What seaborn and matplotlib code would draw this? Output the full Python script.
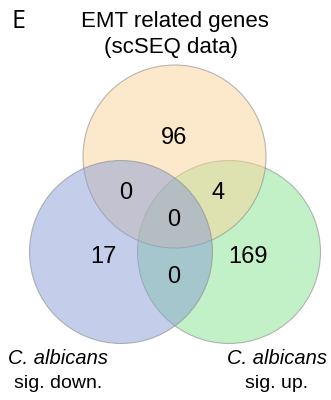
import matplotlib
matplotlib.use("Agg")
import matplotlib.pyplot as plt
from matplotlib.patches import Circle
from matplotlib.colors import to_rgba
import seaborn as sns

# Gene sets and overlap counts
set_names = ["EMT related genes\n(scSEQ data)", "C. albicans\nsig. down.", "C. albicans\nsig. up."]
only_emt = 96
only_down = 17
only_up = 169
emt_down = 0
emt_up = 4
down_up = 0
all_three = 0

sns.set_theme(style="white")
plt.rcParams["font.family"] = ["Liberation Sans", "DejaVu Sans"]
plt.rcParams["text.color"] = "black"

fig = plt.figure(figsize=(3.31, 4.0), dpi=100)
ax = fig.add_axes([0, 0, 1, 1])
ax.set_xlim(0, 331)
ax.set_ylim(400, 0)
ax.set_aspect("equal")
ax.axis("off")

r = 91.5
circles = {
    "up": ((229, 252), "#87E593"),
    "emt": ((174.5, 156.5), "#FBD399"),
    "down": ((121, 252), "#8B9DD5"),
}
for key in ["up", "emt", "down"]:
    (cx, cy), col = circles[key]
    ax.add_patch(Circle((cx, cy), r, facecolor=to_rgba(col, 0.5),
                        edgecolor=to_rgba("#8a8a8a", 0.6), linewidth=0.8))

num_kw = dict(ha="center", va="center", fontsize=17, color="black")
ax.text(174, 138, str(only_emt), **num_kw)
ax.text(126, 193, str(emt_down), **num_kw)
ax.text(218, 193, str(emt_up), **num_kw)
ax.text(174, 220, str(all_three), **num_kw)
ax.text(103, 257, str(only_down), **num_kw)
ax.text(248, 257, str(only_up), **num_kw)
ax.text(174, 277, str(down_up), **num_kw)

# Titles
t1, t2 = set_names[0].split("\n")
ax.text(175, 22, t1, ha="center", va="center", fontsize=16, color="black")
ax.text(171, 48, t2, ha="center", va="center", fontsize=16, color="black")
ax.text(19, 21, "E", ha="center", va="center", fontsize=18, color="black",
        family=["Open Sans", "DejaVu Sans"])

for name, x in [(set_names[1], 58), (set_names[2], 277)]:
    l1, l2 = name.split("\n")
    ax.text(x, 358, l1, ha="center", va="center", fontsize=14.5, style="italic", color="black")
    ax.text(x, 384, l2, ha="center", va="center", fontsize=14, color="black")

fig.savefig("out.png", dpi=100, facecolor="white")
